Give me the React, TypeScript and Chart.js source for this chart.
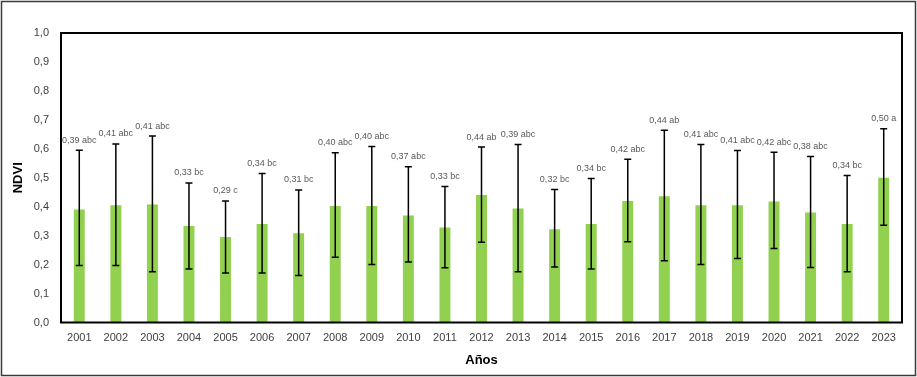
import React, { useEffect, useRef } from "react";
import { Chart, registerables } from "chart.js";

Chart.register(...registerables);

const years = ["2001","2002","2003","2004","2005","2006","2007","2008","2009","2010","2011","2012","2013","2014","2015","2016","2017","2018","2019","2020","2021","2022","2023"];
const ndvi = [0.39,0.405,0.408,0.333,0.295,0.34,0.308,0.402,0.402,0.37,0.328,0.44,0.394,0.322,0.34,0.42,0.436,0.405,0.405,0.418,0.38,0.34,0.50];
const errLow = [0.197,0.197,0.175,0.185,0.171,0.171,0.162,0.225,0.200,0.209,0.189,0.277,0.175,0.192,0.185,0.279,0.213,0.200,0.221,0.256,0.190,0.175,0.336];
const errHigh = [0.595,0.617,0.644,0.482,0.420,0.515,0.458,0.586,0.608,0.538,0.470,0.606,0.615,0.459,0.497,0.564,0.664,0.615,0.594,0.588,0.573,0.508,0.669];
const meanLabels = ["0,39","0,41","0,41","0,33","0,29","0,34","0,31","0,40","0,40","0,37","0,33","0,44","0,39","0,32","0,34","0,42","0,44","0,41","0,41","0,42","0,38","0,34","0,50"];
const letters = ["abc","abc","abc","bc","c","bc","bc","abc","abc","abc","bc","ab","abc","bc","bc","abc","ab","abc","abc","abc","abc","bc","a"];

const FONT = "'Liberation Sans', Arial, sans-serif";

const decorPlugin = {
  id: "decor",
  afterDatasetsDraw(chart: any) {
    const { ctx, chartArea } = chart;
    const yScale = chart.scales.y;
    const meta = chart.getDatasetMeta(0);
    ctx.save();
    meta.data.forEach((bar: any, i: number) => {
      const x = bar.x;
      const yHi = yScale.getPixelForValue(errHigh[i]);
      const yLo = yScale.getPixelForValue(errLow[i]);
      ctx.strokeStyle = "#000";
      ctx.lineWidth = 1.5;
      ctx.beginPath();
      ctx.moveTo(x, yHi);
      ctx.lineTo(x, yLo);
      ctx.moveTo(x - 3.5, yHi);
      ctx.lineTo(x + 3.5, yHi);
      ctx.moveTo(x - 3.5, yLo);
      ctx.lineTo(x + 3.5, yLo);
      ctx.stroke();
      ctx.fillStyle = "#595959";
      ctx.font = `9px ${FONT}`;
      ctx.textAlign = "center";
      ctx.textBaseline = "middle";
      ctx.fillText(`${meanLabels[i]} ${letters[i]}`, x, yHi - 10);
    });
    ctx.strokeStyle = "#000";
    ctx.lineWidth = 2;
    ctx.strokeRect(chartArea.left, chartArea.top, chartArea.right - chartArea.left, chartArea.bottom - chartArea.top);
    ctx.strokeStyle = "#3a3a3a";
    ctx.lineWidth = 1.5;
    ctx.strokeRect(1.5, 1.5, chart.width - 3, chart.height - 3);
    ctx.restore();
  },
};

export default function App() {
  const ref = useRef<HTMLCanvasElement | null>(null);
  useEffect(() => {
    document.body.style.margin = "0";
    if (!ref.current) return;
    const chart = new Chart(ref.current, {
      type: "bar",
      data: {
        labels: years,
        datasets: [
          {
            data: ndvi,
            backgroundColor: "#92D050",
            borderWidth: 0,
            barPercentage: 0.3,
            categoryPercentage: 1,
          },
        ],
      },
      options: {
        animation: false,
        responsive: false,
        layout: { padding: { top: 33, right: 15, left: 0, bottom: 0 } },
        plugins: { legend: { display: false }, tooltip: { enabled: false } },
        scales: {
          x: {
            grid: { display: false, drawTicks: false },
            border: { display: false },
            ticks: { color: "#404040", font: { family: FONT, size: 11 }, padding: 9, maxRotation: 0, autoSkip: false },
            title: { display: true, text: "Años", color: "#000", font: { family: FONT, size: 13, weight: "bold" }, padding: { top: 0, bottom: 9 } },
            afterFit: (s: any) => { s.height = 54.5; },
          },
          y: {
            min: 0,
            max: 1,
            grid: { display: false, drawTicks: false },
            border: { display: false },
            ticks: {
              stepSize: 0.1,
              color: "#404040",
              font: { family: FONT, size: 11 },
              padding: 12,
              callback: (v: any) => Number(v).toFixed(1).replace(".", ","),
            },
            title: { display: true, text: "NDVI", color: "#000", font: { family: FONT, size: 13, weight: "bold" }, padding: { top: 11, bottom: 0 } },
            afterFit: (s: any) => { s.width = 61; },
          },
        },
      },
      plugins: [decorPlugin],
    });
    return () => chart.destroy();
  }, []);
  return (
    <div style={{ width: 917, height: 377, background: "#fff" }}>
      <canvas ref={ref} width={917} height={377} />
    </div>
  );
}
